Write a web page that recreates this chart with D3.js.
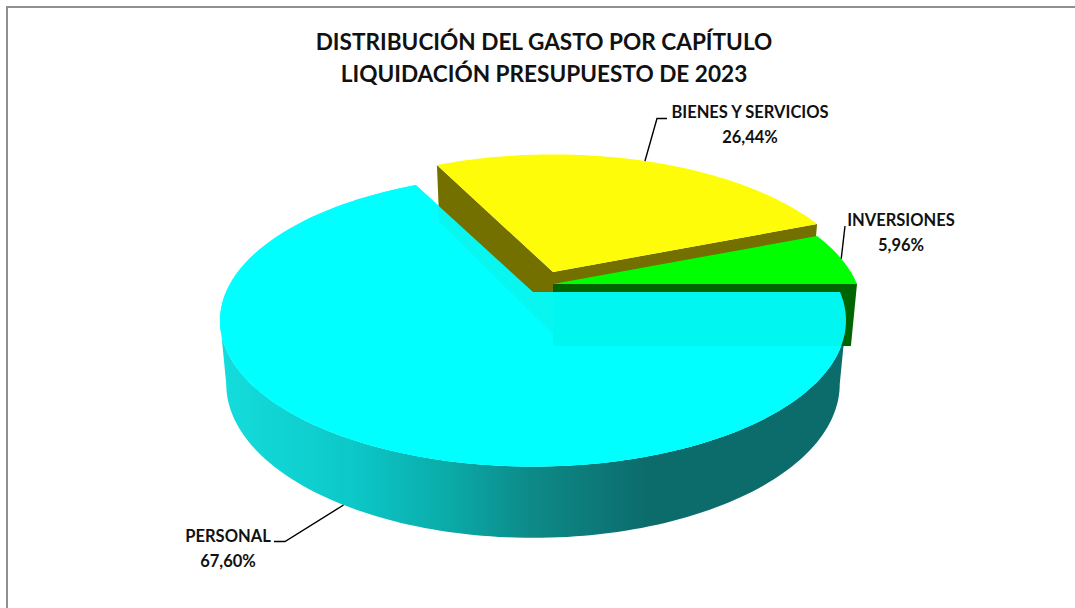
<!DOCTYPE html>
<html>
<head>
<meta charset="utf-8">
<style>
    html, body { margin: 0; padding: 0; background: #fff; overflow: hidden; }
    text { font-family: Lato, 'Open Sans', sans-serif; font-weight: 700; fill: #111; }
    .title { font-size: 22.6px; }
    .label { font-size: 16.5px; }
</style>
<script src="https://cdn.jsdelivr.net/npm/d3@7/dist/d3.min.js"></script>
</head>
<body>
<svg class="pie_chart" width="1075" height="608"></svg>
<script>
const titleLines = ['DISTRIBUCIÓN DEL GASTO POR CAPÍTULO', 'LIQUIDACIÓN PRESUPUESTO DE 2023'];
const categories = ['PERSONAL', 'BIENES Y SERVICIOS', 'INVERSIONES'];
const values = [67.60, 26.44, 5.96];

const chart = d3.select('.pie_chart');

const topColor = d3.scaleOrdinal().domain(categories).range(['#00ffff', '#fffc0a', '#00ff00']);
const wallColor = d3.scaleOrdinal().domain(categories).range(['#0c6b6b', '#737000', '#006400']);

// where each exploded slice's center lands on screen, and its half width
const origin = {
    'PERSONAL': { x: 533, y: 292, rx: 307 },
    'BIENES Y SERVICIOS': { x: 553, y: 272, rx: 304 },
    'INVERSIONES': { x: 553, y: 284, rx: 304 }
};

// label placement: anchor, and the elbow of the leader line
const labelPos = {
    'PERSONAL': { x: 228, y: 542, elbow: [285, 541.5], end: [274, 541.5], plane: 'bottom' },
    'BIENES Y SERVICIOS': { x: 750, y: 118, elbow: [657, 118.5], end: [667, 118.5], plane: 'top' },
    'INVERSIONES': { x: 901, y: 226, elbow: [845, 226], end: [845, 226], plane: 'top' }
};

// perspective of the pie: the near side is bigger, the base sits lower
const tilt = 0.195;
const planes = {
    top: { dy: 0, sx: 1, sy: 140.5 },
    bottom: { dy: 62, sx: 0.98, sy: 148 }
};

const project = (name, plane, angle) => {
    const o = origin[name];
    const p = planes[plane];
    const u = Math.cos(angle);
    const v = Math.sin(angle);
    const w = 1 - tilt * v;
    return [o.x + o.rx * p.sx * u / w, o.y + p.dy + p.sy * v / w];
};

const sweep = (a0, a1) => d3.range(121).map(i => a0 + (a1 - a0) * i / 120);
const line = d3.line();

const render = () => {
    chart.append('rect')
        .attr('x', 7)
        .attr('y', 7)
        .attr('width', 1200)
        .attr('height', 800)
        .attr('fill', '#fff')
        .attr('stroke', '#8f8f8f')
        .attr('stroke-width', 2);

    const defs = chart.append('defs');
    const grad = defs.append('linearGradient')
        .attr('id', 'wall')
        .attr('gradientUnits', 'userSpaceOnUse')
        .attr('x1', 225)
        .attr('x2', 650)
        .attr('y1', 0)
        .attr('y2', 0);
    [['0', '#14dcdc'], ['0.3', '#0cc8c8'], ['0.53', '#0aaaa8'], ['0.72', '#0d8a88'], ['1', '#0c6b6b']]
        .forEach(s => grad.append('stop').attr('offset', s[0]).attr('stop-color', s[1]));

    // d3.pie angles start at 12 o'clock, the first slice starts at 3 o'clock
    const slices = d3.pie().sort(null)
        .startAngle(Math.PI / 2)
        .endAngle(Math.PI / 2 + 2 * Math.PI)(values)
        .map((d, i) => ({
            name: categories[i],
            value: d.value,
            a0: d.startAngle - Math.PI / 2,
            a1: d.endAngle - Math.PI / 2
        }));

    const [personal, bienes, inversiones] = slices;
    const g = chart.append('g');

    const wedge = d => {
        const rim = sweep(d.a0, d.a1).map(a => project(d.name, 'top', a));
        return line([[origin[d.name].x, origin[d.name].y], ...rim]) + 'Z';
    };

    // side band only between the two widest points of the projected rim,
    // so its ends are the straight silhouette edges
    const outerWall = d => {
        const right = Math.asin(tilt);
        const left = Math.PI - right;
        const top = sweep(right, left).map(a => project(d.name, 'top', a));
        const bottom = sweep(left, right).map(a => project(d.name, 'bottom', a));
        return line([...top, ...bottom]) + 'Z';
    };

    // flat face going from the slice's center out to the rim at one angle
    const innerWall = (d, a) => line([
        [origin[d.name].x, origin[d.name].y],
        project(d.name, 'top', a),
        project(d.name, 'bottom', a),
        [origin[d.name].x, origin[d.name].y + planes.bottom.dy]
    ]) + 'Z';

    // personal: side band and an opaque base for its top
    g.append('path').attr('d', outerWall(personal)).attr('fill', 'url(#wall)');
    g.append('path').attr('d', wedge(personal)).attr('fill', topColor(personal.name));

    // bienes y servicios
    g.append('path').attr('d', innerWall(bienes, bienes.a0)).attr('fill', wallColor(bienes.name));
    g.append('path').attr('d', innerWall(bienes, bienes.a1)).attr('fill', wallColor(bienes.name));
    g.append('path').attr('d', wedge(bienes)).attr('fill', topColor(bienes.name));

    // inversiones
    g.append('path').attr('d', innerWall(inversiones, inversiones.a1)).attr('fill', wallColor(inversiones.name));
    g.append('path').attr('d', wedge(inversiones)).attr('fill', topColor(inversiones.name));

    // personal's top is slightly see-through, the walls behind tint it
    g.append('path')
        .attr('d', wedge(personal))
        .attr('fill', topColor(personal.name))
        .attr('fill-opacity', 0.94);

    // leader lines start at the middle of each slice's rim
    slices.forEach(d => {
        const pos = labelPos[d.name];
        const start = project(d.name, pos.plane, (d.a0 + d.a1) / 2);
        chart.append('path')
            .attr('d', line([start, pos.elbow, pos.end]))
            .attr('fill', 'none')
            .attr('stroke', '#000')
            .attr('stroke-width', 1.4);
        const label = chart.append('text')
            .attr('class', 'label')
            .attr('text-anchor', 'middle');
        label.append('tspan')
            .attr('x', pos.x)
            .attr('y', pos.y)
            .text(d.name);
        label.append('tspan')
            .attr('x', pos.x)
            .attr('y', pos.y + 24.5)
            .text(d3.format('.2f')(d.value).replace('.', ',') + '%');
    });

    chart.selectAll('.title')
        .data(titleLines)
        .join('text')
        .attr('class', 'title')
        .attr('text-anchor', 'middle')
        .attr('x', 544)
        .attr('y', (d, i) => 50 + i * 32)
        .text(d => d);
};

render();
</script>
</body>
</html>
